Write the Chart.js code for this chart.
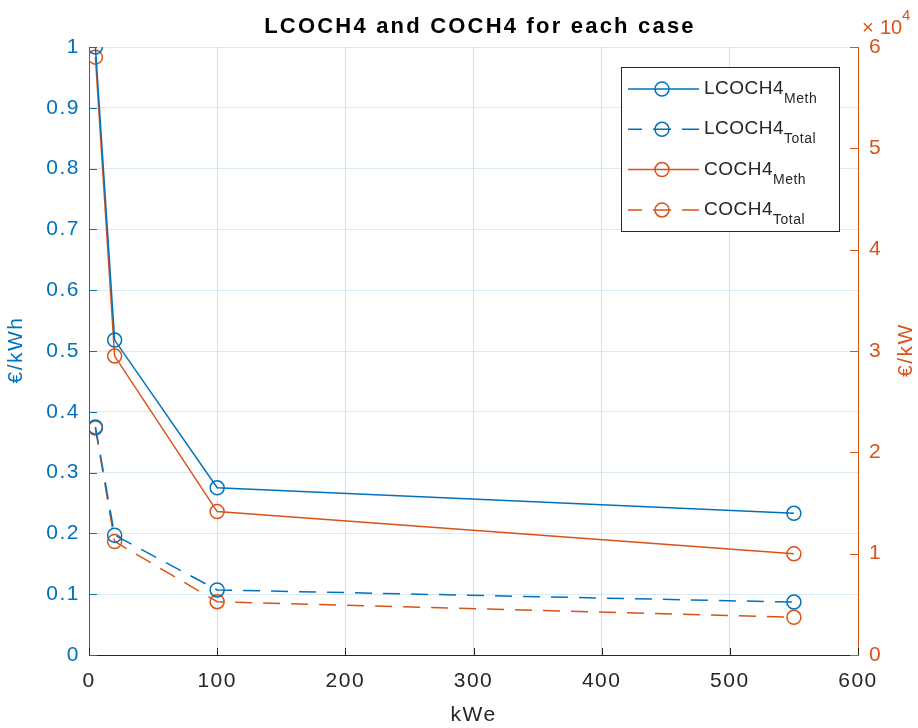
<!DOCTYPE html>
<html>
<head>
<meta charset="utf-8">
<script src="https://cdn.jsdelivr.net/npm/chart.js@4/dist/chart.umd.min.js"></script>
<style>
  html, body { margin: 0; background: #fff; }
</style>
</head>
<body>
<canvas id="chart" width="918" height="728"></canvas>
<script>
// plant size (kWe) and cost results per case
const capacity = [5, 20, 100, 550];
const lcochMeth = [1.0, 0.518, 0.275, 0.233];    // €/kWh
const lcochTotal = [0.375, 0.197, 0.107, 0.087]; // €/kWh
const cochMeth = [59000, 29500, 14150, 9980];    // €/kW
const cochTotal = [22400, 11200, 5260, 3720];    // €/kW

const seriesNames = ['LCOCH4', 'LCOCH4', 'COCH4', 'COCH4'];
const seriesSubs = ['Meth', 'Total', 'Meth', 'Total'];

const BLUE = '#0072BD';
const ORANGE = '#D95319';
const DARK = '#262626';
const FONT = '"Liberation Sans", Arial, sans-serif';
const DASH = [17, 11];

const toPoints = ys => capacity.map((x, i) => ({ x: x, y: ys[i] }));

function series(i, ys, color, dashed, axis) {
  return {
    label: seriesNames[i] + ' ' + seriesSubs[i],
    data: toPoints(ys),
    yAxisID: axis,
    borderColor: color,
    borderWidth: 1.5,
    borderDash: dashed ? DASH : [],
    pointStyle: 'circle',
    pointRadius: 7,
    pointBorderWidth: 1.5,
    pointBorderColor: color,
    pointBackgroundColor: 'rgba(0,0,0,0)',
    tension: 0
  };
}

// MATLAB-like extras: inward ticks, titles, exponent and legend with subscripts
const decorations = {
  id: 'decorations',
  beforeDraw(chart) {
    chart.ctx.letterSpacing = '1.5px';
  },
  afterDraw(chart) {
    const ctx = chart.ctx;
    const { left, right, top, bottom } = chart.chartArea;
    const sx = chart.scales.x, sy = chart.scales.y, sy2 = chart.scales.y2;
    ctx.save();
    ctx.lineWidth = 1;

    // inward tick marks
    ctx.strokeStyle = DARK;
    sx.ticks.forEach(t => {
      const px = Math.round(sx.getPixelForValue(t.value)) + 0.5;
      ctx.beginPath(); ctx.moveTo(px, bottom); ctx.lineTo(px, bottom - 7); ctx.stroke();
    });
    ctx.strokeStyle = BLUE;
    sy.ticks.forEach(t => {
      const py = Math.round(sy.getPixelForValue(t.value)) + 0.5;
      ctx.beginPath(); ctx.moveTo(left, py); ctx.lineTo(left + 8, py); ctx.stroke();
    });
    ctx.strokeStyle = ORANGE;
    sy2.ticks.forEach(t => {
      const py = Math.round(sy2.getPixelForValue(t.value)) + 0.5;
      ctx.beginPath(); ctx.moveTo(right, py); ctx.lineTo(right - 8, py); ctx.stroke();
    });

    // title
    ctx.letterSpacing = '2.2px';
    ctx.fillStyle = '#000';
    ctx.font = 'bold 22px ' + FONT;
    ctx.textAlign = 'center';
    ctx.textBaseline = 'alphabetic';
    ctx.fillText('LCOCH4 and COCH4 for each case', 480, 33);

    // axis titles
    ctx.letterSpacing = '1.5px';
    ctx.font = '21px ' + FONT;
    ctx.textBaseline = 'middle';
    ctx.fillStyle = DARK;
    ctx.fillText('kWe', (left + right) / 2, 715);

    ctx.save();
    ctx.translate(16, 350);
    ctx.rotate(-Math.PI / 2);
    ctx.fillStyle = BLUE;
    ctx.fillText('€/kWh', 0, 0);
    ctx.restore();

    ctx.save();
    ctx.translate(906, 350);
    ctx.rotate(-Math.PI / 2);
    ctx.fillStyle = ORANGE;
    ctx.fillText('€/kW', 0, 0);
    ctx.restore();

    // exponent of the right axis
    ctx.letterSpacing = '0px';
    ctx.fillStyle = ORANGE;
    ctx.textAlign = 'left';
    ctx.textBaseline = 'alphabetic';
    ctx.font = '20px ' + FONT;
    ctx.fillText('×', 862, 34);
    ctx.fillText('10', 880, 34);
    ctx.font = '15px ' + FONT;
    ctx.fillText('4', 902, 20);

    // legend
    const bx = 621, by = 67, bw = 218, bh = 164;
    ctx.fillStyle = '#fff';
    ctx.fillRect(bx, by, bw, bh);
    ctx.strokeStyle = DARK;
    ctx.lineWidth = 1;
    ctx.strokeRect(bx + 0.5, by + 0.5, bw, bh);
    ctx.letterSpacing = '0.5px';
    chart.data.datasets.forEach((ds, i) => {
      const ry = by + 22 + i * 40.3;
      ctx.strokeStyle = ds.borderColor;
      ctx.lineWidth = 1.5;
      if (ds.borderDash.length) {
        ctx.beginPath();
        ctx.moveTo(628, ry); ctx.lineTo(642, ry);
        ctx.moveTo(653, ry); ctx.lineTo(671, ry);
        ctx.moveTo(682, ry); ctx.lineTo(699, ry);
        ctx.stroke();
      } else {
        ctx.beginPath(); ctx.moveTo(628, ry); ctx.lineTo(699, ry); ctx.stroke();
      }
      ctx.beginPath(); ctx.arc(662, ry, 7, 0, Math.PI * 2); ctx.stroke();
      ctx.fillStyle = DARK;
      ctx.font = '19px ' + FONT;
      ctx.fillText(seriesNames[i], 704, ry + 5);
      const w = ctx.measureText(seriesNames[i]).width;
      ctx.font = '14px ' + FONT;
      ctx.fillText(seriesSubs[i], 704 + w, ry + 14);
    });
    ctx.restore();
  }
};

const tickFont = { family: FONT, size: 21 };

new Chart(document.getElementById('chart'), {
  type: 'line',
  data: {
    datasets: [
      series(0, lcochMeth, BLUE, false, 'y'),
      series(1, lcochTotal, BLUE, true, 'y'),
      series(2, cochMeth, ORANGE, false, 'y2'),
      series(3, cochTotal, ORANGE, true, 'y2')
    ]
  },
  options: {
    responsive: false,
    animation: false,
    layout: { padding: { top: 47 } },
    plugins: { legend: { display: false }, title: { display: false }, tooltip: { enabled: false } },
    scales: {
      x: {
        type: 'linear', position: 'bottom', min: 0, max: 600,
        ticks: { stepSize: 100, color: DARK, font: tickFont, padding: 14 },
        grid: { color: 'rgba(0,0,0,0.13)', drawTicks: false },
        border: { color: DARK, width: 1 },
        afterFit: s => { s.height = 73; }
      },
      y: {
        type: 'linear', position: 'left', min: 0, max: 1,
        ticks: { stepSize: 0.1, color: BLUE, font: tickFont, padding: 9,
                 callback: v => String(+v.toFixed(1)) },
        grid: { color: 'rgba(0,114,189,0.15)', drawTicks: false },
        border: { color: BLUE, width: 1 },
        afterFit: s => { s.width = 89; }
      },
      y2: {
        type: 'linear', position: 'right', min: 0, max: 60000,
        ticks: { stepSize: 10000, color: ORANGE, font: tickFont, padding: 11,
                 callback: v => String(v / 10000) },
        grid: { drawOnChartArea: false, drawTicks: false },
        border: { color: ORANGE, width: 1 },
        afterFit: s => { s.width = 60; }
      }
    }
  },
  plugins: [decorations]
});
</script>
</body>
</html>
